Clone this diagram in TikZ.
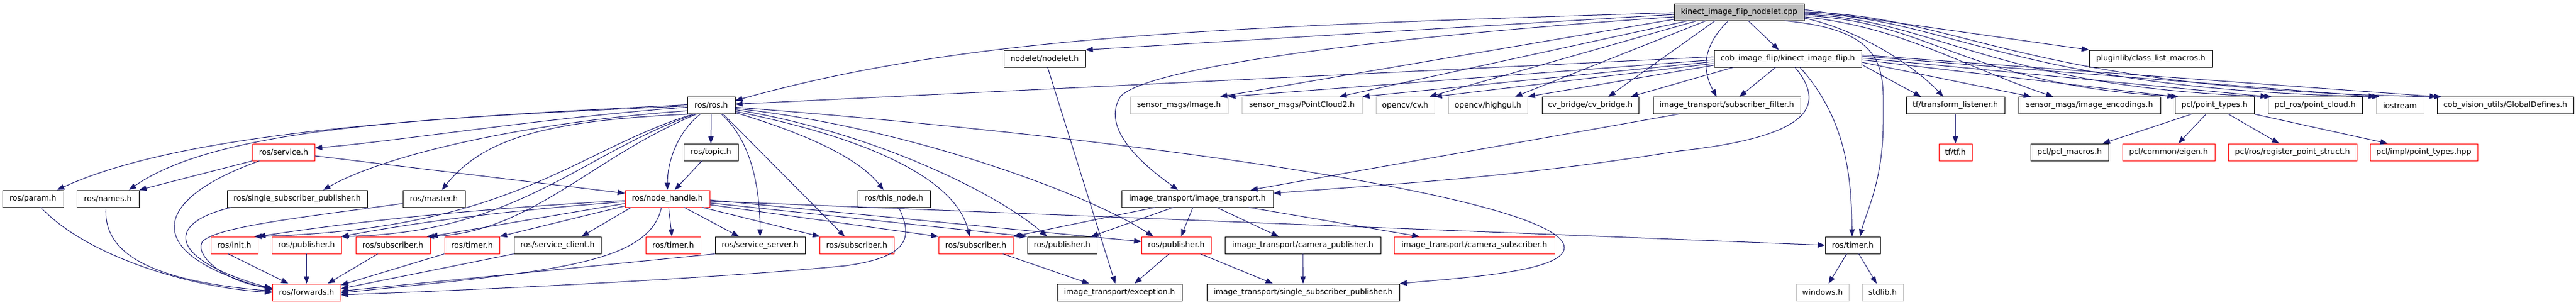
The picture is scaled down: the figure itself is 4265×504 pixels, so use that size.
\documentclass[tikz,border=0pt]{standalone}
\usepackage{fontspec}
\newfontfamily\dvs{DejaVu Sans}
\usetikzlibrary{arrows.meta}
\definecolor{edgeblue}{HTML}{191970}
\definecolor{boxgray}{HTML}{BFBFBF}
\begin{document}
\begin{tikzpicture}[x=1pt,y=-1pt,
  nb/.style={draw=black, fill=white, line width=0.9pt, minimum height=28pt, inner sep=0pt, font={\dvs\fontsize{12.75pt}{15pt}\selectfont}, text=black},
  nr/.style={nb, draw=red},
  ng/.style={nb, draw=boxgray},
  nt/.style={nb, fill=boxgray},
  e/.style={draw=edgeblue, line width=1pt, -{Triangle[length=12pt,width=9pt]}}]
\fill[white] (0,0) rectangle (4265,504);
\useasboundingbox (0,0) rectangle (4265,504);
% row 0
\node[nt, minimum width=215pt] (cpp) at (2879.5,20) {kinect\_image\_flip\_nodelet.cpp};
% row 1
\node[nb, minimum width=135pt] (nodelet) at (1729.5,97) {nodelet/nodelet.h};
\node[nb, minimum width=244pt] (kif) at (2960,97) {cob\_image\_flip/kinect\_image\_flip.h};
\node[nb, minimum width=204pt] (plugin) at (3561,97) {pluginlib/class\_list\_macros.h};
% row 2
\node[nb, minimum width=79pt] (ros) at (1177.5,174.5) {ros/ros.h};
\node[ng, minimum width=162pt] (img) at (1952,174.5) {sensor\_msgs/Image.h};
\node[ng, minimum width=199pt] (pc2) at (2155.5,174.5) {sensor\_msgs/PointCloud2.h};
\node[ng, minimum width=97pt] (cv) at (2326.5,174.5) {opencv/cv.h};
\node[ng, minimum width=131pt] (hg) at (2463.5,174.5) {opencv/highgui.h};
\node[nb, minimum width=160pt] (cvb) at (2633,174.5) {cv\_bridge/cv\_bridge.h};
\node[nb, minimum width=244pt] (sf) at (2859,174.5) {image\_transport/subscriber\_filter.h};
\node[nb, minimum width=163pt] (tfl) at (3237.5,174.5) {tf/transform\_listener.h};
\node[nb, minimum width=235pt] (enc) at (3459.5,174.5) {sensor\_msgs/image\_encodings.h};
\node[nb, minimum width=131pt] (pt) at (3666.5,174.5) {pcl/point\_types.h};
\node[nb, minimum width=156pt] (pclros) at (3833,174.5) {pcl\_ros/point\_cloud.h};
\node[ng, minimum width=79pt] (ios) at (3973.5,174.5) {iostream};
\node[nb, minimum width=226pt] (gd) at (4148,174.5) {cob\_vision\_utils/GlobalDefines.h};
% row 3
\node[nr, minimum width=103pt] (service) at (469.5,252) {ros/service.h};
\node[nb, minimum width=90pt] (topic) at (1177,252) {ros/topic.h};
\node[nr, minimum width=55pt] (tf) at (3237.5,252) {tf/tf.h};
\node[nb, minimum width=129pt] (macros) at (3426.5,252) {pcl/pcl\_macros.h};
\node[nr, minimum width=153pt] (eigen) at (3590.5,252) {pcl/common/eigen.h};
\node[nr, minimum width=213pt] (reg) at (3795.5,252) {pcl/ros/register\_point\_struct.h};
\node[nr, minimum width=178pt] (impl) at (4013,252) {pcl/impl/point\_types.hpp};
% row 4
\node[nb, minimum width=101pt] (param) at (54.5,329) {ros/param.h};
\node[nb, minimum width=103pt] (names) at (178.5,329) {ros/names.h};
\node[nb, minimum width=232pt] (ssp) at (492,329) {ros/single\_subscriber\_publisher.h};
\node[nb, minimum width=103pt] (master) at (718.5,329) {ros/master.h};
\node[nr, minimum width=140pt] (nh) at (1105,329) {ros/node\_handle.h};
\node[nb, minimum width=120pt] (thisnode) at (1480,329) {ros/this\_node.h};
\node[nb, minimum width=251pt] (it) at (1982.5,329) {image\_transport/image\_transport.h};
% row 5
\node[nr, minimum width=78pt] (init) at (388,406) {ros/init.h};
\node[nr, minimum width=115pt] (pub1) at (507.5,406) {ros/publisher.h};
\node[nr, minimum width=123pt] (sub1) at (650.5,406) {ros/subscriber.h};
\node[nr, minimum width=91pt] (timer1) at (781.5,406) {ros/timer.h};
\node[nb, minimum width=144pt] (sc) at (923,406) {ros/service\_client.h};
\node[nr, minimum width=91pt] (timer2) at (1114.5,406) {ros/timer.h};
\node[nb, minimum width=149pt] (ss) at (1258.5,406) {ros/service\_server.h};
\node[nr, minimum width=123pt] (sub2) at (1418.5,406) {ros/subscriber.h};
\node[nr, minimum width=123pt] (sub3) at (1615.5,406) {ros/subscriber.h};
\node[nb, minimum width=115pt] (pub2) at (1758.5,406) {ros/publisher.h};
\node[nr, minimum width=115pt] (pub3) at (1947.5,406) {ros/publisher.h};
\node[nb, minimum width=258pt] (cp) at (2157,406) {image\_transport/camera\_publisher.h};
\node[nr, minimum width=266pt] (cs) at (2441,406) {image\_transport/camera\_subscriber.h};
\node[nb, minimum width=91pt] (timer3) at (3067.5,406) {ros/timer.h};
% row 6
\node[nr, minimum width=113pt] (fw) at (507.5,484) {ros/forwards.h};
\node[nb, minimum width=207pt] (exc) at (1853.5,484) {image\_transport/exception.h};
\node[nb, minimum width=319pt] (issp) at (2157.5,484) {image\_transport/single\_subscriber\_publisher.h};
\node[ng, minimum width=87pt] (win) at (3017.5,484) {windows.h};
\node[ng, minimum width=68pt] (std) at (3117,484) {stdlib.h};

% ---- edges from cpp
\draw[e] ([yshift=-4pt]cpp.west) -- (nodelet.north east);
\draw[e] ([yshift=-1pt]cpp.west) .. controls (2000,45) and (1600,60) .. ([yshift=8pt]ros.east);
\draw[e] ([yshift=-8pt]cpp.west) .. controls (2300,60) and (1900,110) .. (1855,160) .. controls (1830,200) and (1860,250) .. ([xshift=-32pt]it.north);
\draw[e] ([yshift=-12pt]cpp.west) -- ([xshift=68pt]img.north);
\draw[e] ([xshift=-85pt]cpp.south) -- ([xshift=62pt]pc2.north);
\draw[e] ([xshift=-70pt]cpp.south) -- ([xshift=40pt]cv.north);
\draw[e] ([xshift=-55pt]cpp.south) -- ([xshift=45pt]hg.north);
\draw[e] ([xshift=-40pt]cpp.south) -- ([xshift=30pt]cvb.north);
\draw[e] ([xshift=-18pt]cpp.south) .. controls (2815,80) and (2820,120) .. ([xshift=-17pt]sf.north);
\draw[e] ([xshift=15pt]cpp.south) -- ([xshift=-15pt]kif.north);
\draw[e] ([xshift=75pt]cpp.south) .. controls (3130,50) and (3118,120) .. (3118,200) .. controls (3118,300) and (3090,350) .. ([xshift=12pt]timer3.north);
\draw[e] ([yshift=4pt]cpp.east) -- (plugin.north west);
\draw[e] ([yshift=-10pt]cpp.east) .. controls (3080,50) and (3170,110) .. ([xshift=-20pt]tfl.north);
\draw[e] ([yshift=-8pt]cpp.east) .. controls (3150,45) and (3250,110) .. ([xshift=-60pt]enc.north);
\draw[e] ([yshift=-6pt]cpp.east) .. controls (3200,35) and (3250,140) .. ([xshift=-60pt]pt.north);
\draw[e] ([yshift=-4pt]cpp.east) .. controls (3200,30) and (3300,145) .. ([xshift=-72pt]pclros.north);
\draw[e] ([yshift=-2pt]cpp.east) .. controls (3230,28) and (3330,148) .. ([xshift=-34pt]ios.north);
\draw[e] (cpp.east) .. controls (3250,25) and (3350,150) .. ([xshift=-106pt]gd.north);
% ---- edges from kif
\draw[e] ([yshift=3pt]kif.west) -- ([yshift=2pt]ros.east);
\draw[e] ([yshift=-2pt]kif.west) -- (img.north east);
\draw[e] ([yshift=-5pt]kif.west) -- (pc2.north east);
\draw[e] ([yshift=-8pt]kif.west) -- (cv.north east);
\draw[e] ([yshift=-11pt]kif.west) -- (hg.north east);
\draw[e] ([xshift=-90pt]kif.south) -- ([xshift=67pt]cvb.north);
\draw[e] ([xshift=-20pt]kif.south) -- ([xshift=21pt]sf.north);
\draw[e] ([xshift=12pt]kif.south) .. controls (3020,170) and (3010,225) .. (2780,250) .. controls (2500,295) and (2300,305) .. ([yshift=9pt]it.east);
\draw[e] ([xshift=20pt]kif.south) .. controls (3060,200) and (3065,300) .. ([xshift=-1pt]timer3.north);
\draw[e] ([yshift=-10pt]kif.east) -- ([xshift=-57pt]tfl.north);
\draw[e] ([yshift=-6pt]kif.east) -- ([xshift=-97pt]enc.north);
\draw[e] ([yshift=-2pt]kif.east) -- (pt.north west);
\draw[e] ([yshift=1pt]kif.east) -- (pclros.north west);
\draw[e] ([yshift=4pt]kif.east) -- (ios.north west);
\draw[e] ([yshift=6pt]kif.east) -- (gd.north west);
% ---- edges from ros
\draw[e] ([yshift=1pt]ros.west) .. controls (700,195) and (300,220) .. ([xshift=40pt]param.north);
\draw[e] ([yshift=-1pt]ros.west) .. controls (700,195) and (360,212) .. ([xshift=35pt]names.north);
\draw[e] ([yshift=-3pt]ros.west) .. controls (900,195) and (650,235) .. ([yshift=7pt]service.east);
\draw[e] ([yshift=-9pt]ros.west) .. controls (900,200) and (650,250) .. ([xshift=43pt]ssp.north);
\draw[e] ([xshift=-37pt]ros.south) .. controls (900,200) and (800,230) .. ([xshift=13pt]master.north);
\draw[e] ([xshift=-30pt]ros.south) .. controls (950,250) and (850,380) .. ([xshift=33pt]init.north);
\draw[e] ([xshift=-27pt]ros.south) .. controls (960,255) and (860,385) .. ([xshift=57pt]pub1.north);
\draw[e] ([xshift=-24pt]ros.south) .. controls (980,260) and (880,385) .. ([xshift=56pt]sub1.north);
\draw[e] ([xshift=-18pt]ros.south) .. controls (1120,220) and (1105,270) .. (nh.north);
\draw[e] (ros.south) -- (topic.north);
\draw[e] ([xshift=17pt]ros.south) .. controls (1240,230) and (1258,300) .. (ss.north);
\draw[e] ([xshift=20pt]ros.south) -- ([xshift=-20pt]sub2.north);
\draw[e] ([yshift=-12pt]ros.east) .. controls (1330,220) and (1420,260) .. ([xshift=-17pt]thisnode.north);
\draw[e] ([yshift=-10pt]ros.east) .. controls (1420,225) and (1580,290) .. ([xshift=-10pt]sub3.north);
\draw[e] ([yshift=-7pt]ros.east) .. controls (1450,220) and (1650,320) .. ([xshift=-25pt]pub2.north);
\draw[e] ([yshift=-5pt]ros.east) .. controls (1500,210) and (1800,320) .. ([xshift=-38pt]pub3.north);
\draw[e] ([yshift=-3pt]ros.east) .. controls (1900,230) and (2590,330) .. (2590,410) .. controls (2590,450) and (2420,460) .. (issp.north east);
% ---- service, topic, node_handle
\draw[e] ([yshift=-6pt]service.east) -- ([yshift=9pt]nh.west);
\draw[e] ([xshift=-15pt]topic.south) -- ([xshift=12pt]nh.north);
\draw[e] ([yshift=-3pt]nh.west) .. controls (800,345) and (600,365) .. (init.north east);
\draw[e] ([yshift=-5pt]nh.west) .. controls (820,350) and (680,370) .. (pub1.north east);
\draw[e] ([yshift=-8pt]nh.west) -- (sub1.north east);
\draw[e] ([yshift=-12pt]nh.west) -- (timer1.north east);
\draw[e] ([xshift=-60pt]nh.south) -- ([xshift=40pt]sc.north);
\draw[e] ([xshift=-10pt]nh.south) .. controls (1075,440) and (900,450) .. ([yshift=-1pt]fw.east);
\draw[e] ([xshift=2pt]nh.south) -- ([xshift=-2pt]timer2.north);
\draw[e] ([xshift=28pt]nh.south) -- ([xshift=-35pt]ss.north);
\draw[e] ([xshift=58pt]nh.south) -- ([xshift=-61pt]sub2.north);
\draw[e] ([yshift=-10pt]nh.east) -- (sub3.north west);
\draw[e] ([yshift=-7pt]nh.east) -- (pub2.north west);
\draw[e] ([yshift=-2pt]nh.east) -- ([yshift=6pt]pub3.west);
\draw[e] ([yshift=-4pt]nh.east) -- (timer3.west);
% ---- into ros/forwards.h
\draw[e] ([xshift=13pt]param.south) .. controls (150,430) and (330,478) .. (fw.west);
\draw[e] ([xshift=-3pt]names.south) .. controls (170,420) and (250,465) .. ([yshift=2pt]fw.west);
\draw[e] (service.south west) -- (names.north east);
\draw[e] ([xshift=-40pt]service.south) .. controls (250,330) and (230,420) .. ([yshift=4pt]fw.west);
\draw[e] ([xshift=-109pt]ssp.south) .. controls (270,370) and (280,430) .. ([yshift=6pt]fw.west);
\draw[e] ([yshift=-8pt]master.west) .. controls (500,360) and (360,375) .. (335,400) .. controls (320,425) and (380,470) .. ([yshift=8pt]fw.west);
\draw[e] ([xshift=-10pt]init.south) -- ([xshift=-30pt]fw.north);
\draw[e] (pub1.south) -- (fw.north);
\draw[e] ([xshift=-25pt]sub1.south) -- ([xshift=35pt]fw.north);
\draw[e] (timer1.south west) -- ([yshift=12pt]fw.east);
\draw[e] (sc.south west) -- ([yshift=6pt]fw.east);
\draw[e] (ss.south west) -- ([yshift=2pt]fw.east);
\draw[e] ([xshift=8pt]thisnode.south) .. controls (1510,390) and (1510,425) .. (1400,440) .. controls (1200,460) and (800,480) .. ([yshift=-4pt]fw.east);
% ---- image_transport
\draw[e] ([xshift=-40pt]it.south) -- ([xshift=48pt]pub2.north);
\draw[e] ([xshift=-70pt]it.south) -- (sub3.north east);
\draw[e] ([xshift=-7.5pt]it.south) -- ([xshift=8pt]pub3.north);
\draw[e] ([xshift=32pt]it.south) -- ([xshift=-40pt]cp.north);
\draw[e] ([xshift=85pt]it.south) -- ([xshift=-91pt]cs.north);
\draw[e] ([xshift=-80pt]sf.south) -- ([xshift=88pt]it.north);
\draw[e] ([xshift=5pt]nodelet.south) -- ([xshift=-7pt]exc.north);
\draw[e] ([xshift=45pt]sub3.south) -- ([xshift=-50pt]exc.north);
\draw[e] ([xshift=-12pt]pub3.south) -- ([xshift=25pt]exc.north);
\draw[e] ([xshift=40pt]pub3.south) -- ([xshift=-50pt]issp.north);
\draw[e] (cp.south) -- (issp.north);
% ---- misc
\draw[e] ([xshift=-10pt]timer3.south) -- ([xshift=10pt]win.north);
\draw[e] ([xshift=10pt]timer3.south) -- ([xshift=-10pt]std.north);
\draw[e] (tfl.south) -- (tf.north);
\draw[e] ([xshift=-38pt]pt.south) -- ([xshift=55pt]macros.north);
\draw[e] ([xshift=-14pt]pt.south) -- ([xshift=16pt]eigen.north);
\draw[e] ([xshift=23pt]pt.south) -- ([xshift=-22pt]reg.north);
\draw[e] (pt.south east) -- ([xshift=-60pt]impl.north);
\end{tikzpicture}
\end{document}
